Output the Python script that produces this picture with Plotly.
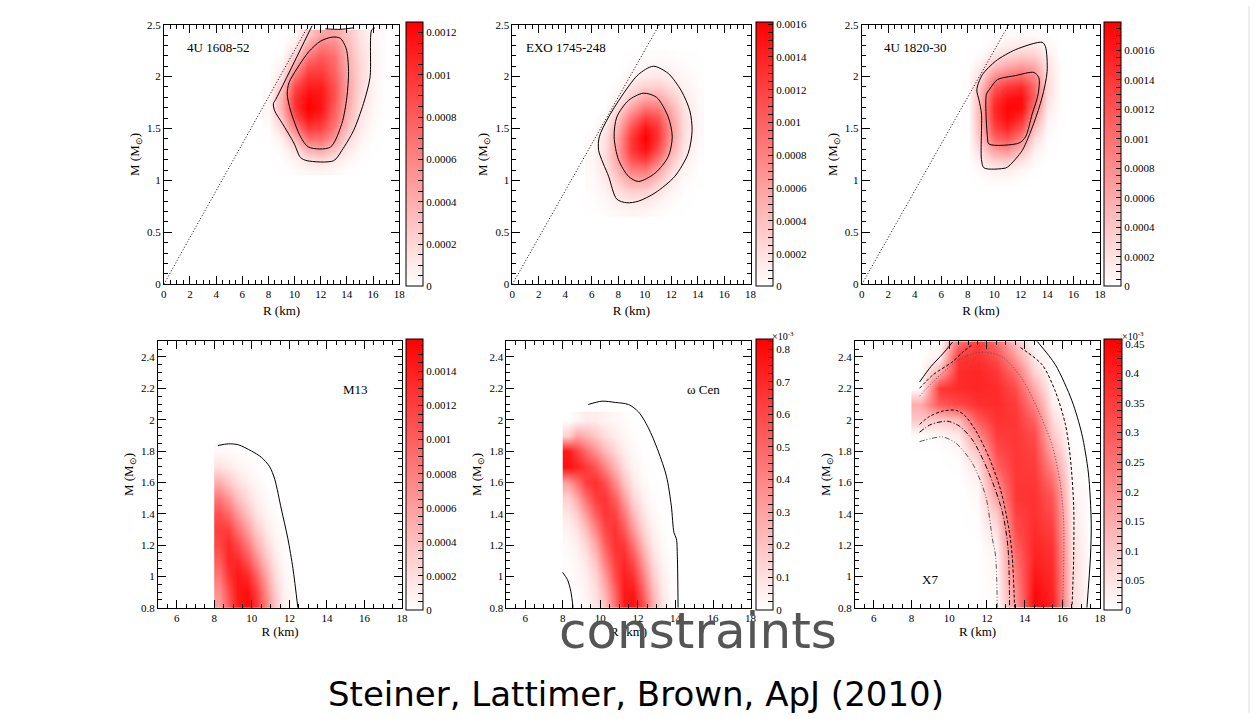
import numpy as np
import plotly.graph_objects as go

W, H = 1258, 719
SERIF = "Liberation Serif"

# ======================= DATA =======================
# ---- 4U 1608-52 : density in units of 1e-4 ----
p1_R = [8, 9, 10, 11, 12, 13, 14, 15, 16, 17]
p1_M = [1.1, 1.2, 1.3, 1.4, 1.5, 1.6, 1.7, 1.8, 1.9, 2.0, 2.1, 2.2, 2.3, 2.4]
p1_z = [
    [0.0, 0.0, 0.2, 0.5, 0.6, 0.4, 0.1, 0.0, 0.0, 0.0],
    [0.0, 0.1, 0.6, 1.5, 1.8, 1.2, 0.5, 0.1, 0.0, 0.0],
    [0.0, 0.3, 1.6, 4.0, 4.5, 3.0, 1.2, 0.3, 0.05, 0.0],
    [0.0, 0.8, 3.5, 7.0, 7.0, 5.0, 2.0, 0.6, 0.1, 0.0],
    [0.1, 1.8, 6.0, 9.5, 9.0, 6.5, 3.0, 1.0, 0.2, 0.0],
    [0.3, 3.0, 8.5, 11.5, 10.5, 7.5, 3.8, 1.3, 0.3, 0.0],
    [0.4, 4.0, 10.0, 12.5, 11.5, 8.0, 4.2, 1.6, 0.4, 0.05],
    [0.3, 4.0, 10.0, 12.0, 11.5, 8.5, 4.5, 1.8, 0.5, 0.05],
    [0.0, 3.0, 9.0, 11.0, 11.0, 8.5, 4.6, 2.0, 0.5, 0.05],
    [0.0, 1.5, 7.0, 10.0, 10.0, 8.0, 4.5, 2.0, 0.6, 0.1],
    [0.0, 0.6, 4.5, 8.5, 9.0, 7.5, 4.2, 2.0, 0.6, 0.1],
    [0.0, 0.1, 2.5, 6.5, 8.0, 7.0, 4.0, 1.8, 0.6, 0.1],
    [0.0, 0.0, 1.0, 4.5, 6.5, 6.0, 3.5, 1.6, 0.5, 0.1],
    [0.0, 0.0, 0.3, 2.5, 4.5, 4.5, 3.0, 1.4, 0.5, 0.1],
]
p1_outer_R = [11.34, 8.56, 8.38, 8.48, 9.06, 9.95, 10.46, 10.96, 12.99, 13.62, 14.51, 15.27, 15.77, 15.9, 16.15]
p1_outer_M = [2.49, 1.78, 1.74, 1.67, 1.55, 1.36, 1.22, 1.19, 1.19, 1.29, 1.48, 1.74, 1.99, 2.45, 2.47]
p1_top_R = [12.35, 13.49, 14.5]
p1_top_M = [2.46, 2.455, 2.47]
p1_inner_R = [11.97, 12.86, 13.49, 13.95, 14.13, 14.0, 13.62, 12.73, 11.09, 10.46, 9.7, 9.44, 9.57, 10.2, 11.09, 11.97]
p1_inner_M = [2.34, 2.38, 2.37, 2.27, 2.05, 1.80, 1.55, 1.32, 1.32, 1.42, 1.67, 1.83, 1.94, 2.08, 2.24, 2.34]

# ---- EXO 1745-248 : density in units of 1e-4 ----
p2_R = [6, 7, 8, 9, 10, 11, 12, 13, 14]
p2_M = [0.7, 0.8, 0.9, 1.0, 1.1, 1.2, 1.3, 1.4, 1.5, 1.6, 1.7, 1.8, 1.9, 2.0, 2.1, 2.2]
p2_z = [
    [0.07, 0.23, 0.51, 0.70, 0.59, 0.31, 0.10, 0.02, 0.0],
    [0.13, 0.47, 1.09, 1.58, 1.42, 0.79, 0.27, 0.06, 0.01],
    [0.21, 0.81, 2.03, 3.10, 2.97, 1.78, 0.65, 0.15, 0.02],
    [0.30, 1.28, 3.36, 5.45, 5.50, 3.42, 1.33, 0.32, 0.05],
    [0.39, 1.71, 4.77, 8.19, 8.73, 5.76, 2.34, 0.61, 0.10],
    [0.43, 2.05, 5.95, 10.8, 12.2, 8.56, 3.72, 1.03, 0.17],
    [0.41, 2.10, 6.45, 12.5, 15.0, 11.1, 5.10, 1.49, 0.27],
    [0.35, 1.90, 6.20, 12.6, 16.0, 12.6, 6.20, 1.90, 0.35],
    [0.0, 1.49, 5.10, 11.1, 15.0, 12.5, 6.45, 2.10, 0.41],
    [0.0, 0.50, 3.72, 8.56, 12.2, 10.8, 5.95, 2.05, 0.43],
    [0.0, 0.0, 2.34, 5.76, 8.73, 8.19, 4.77, 1.71, 0.39],
    [0.0, 0.0, 0.70, 3.42, 5.50, 5.45, 3.36, 1.28, 0.30],
    [0.0, 0.0, 0.30, 1.78, 2.97, 3.10, 2.03, 0.81, 0.21],
    [0.0, 0.0, 0.0, 0.79, 1.42, 1.58, 1.09, 0.47, 0.13],
    [0.0, 0.0, 0.0, 0.31, 0.59, 0.70, 0.51, 0.23, 0.07],
    [0.0, 0.0, 0.0, 0.10, 0.22, 0.27, 0.20, 0.09, 0.03],
]
p2_outer_R = [10.65, 11.78, 12.78, 13.41, 13.58, 13.28, 12.28, 10.78, 9.52, 8.65, 7.89, 7.27, 6.52, 6.57, 7.27, 8.52, 9.52, 10.65]
p2_outer_M = [2.10, 2.03, 1.86, 1.67, 1.48, 1.26, 1.04, 0.88, 0.80, 0.785, 0.82, 1.04, 1.29, 1.42, 1.61, 1.86, 2.02, 2.10]
p2_inner_R = [9.9, 10.9, 11.78, 12.08, 11.78, 10.78, 9.52, 8.77, 8.02, 7.69, 7.89, 8.77, 9.9]
p2_inner_M = [1.84, 1.80, 1.61, 1.42, 1.23, 1.07, 0.99, 1.04, 1.20, 1.42, 1.61, 1.77, 1.84]

# ---- 4U 1820-30 : density in units of 1e-4 ----
p3_R = [8, 9, 10, 11, 12, 13, 14, 15]
p3_M = [1.0, 1.1, 1.2, 1.3, 1.4, 1.5, 1.6, 1.7, 1.8, 1.9, 2.0, 2.1, 2.2, 2.3, 2.4]
p3_z = [
    [0.0, 0.1, 0.3, 0.3, 0.1, 0.0, 0.0, 0.0],
    [0.0, 0.5, 1.2, 1.3, 0.6, 0.1, 0.0, 0.0],
    [0.0, 1.5, 3.5, 4.0, 2.2, 0.5, 0.0, 0.0],
    [0.0, 3.0, 7.0, 8.0, 5.0, 1.2, 0.1, 0.0],
    [0.0, 4.5, 10.5, 12.0, 8.5, 2.5, 0.3, 0.0],
    [0.0, 5.5, 13.0, 15.0, 12.0, 4.5, 0.6, 0.0],
    [0.0, 6.0, 14.5, 17.0, 15.0, 7.0, 1.0, 0.0],
    [0.0, 6.0, 15.0, 17.5, 17.0, 9.5, 1.6, 0.0],
    [0.1, 5.5, 14.0, 16.5, 17.0, 11.0, 2.2, 0.1],
    [0.3, 4.5, 11.5, 14.0, 15.0, 10.5, 2.6, 0.1],
    [0.1, 3.0, 8.0, 10.0, 11.0, 8.5, 2.5, 0.1],
    [0.0, 1.5, 4.5, 6.0, 7.0, 6.0, 2.0, 0.1],
    [0.0, 0.4, 2.0, 3.0, 3.8, 3.5, 1.3, 0.0],
    [0.0, 0.0, 0.6, 1.2, 1.6, 1.6, 0.6, 0.0],
    [0.0, 0.0, 0.1, 0.3, 0.4, 0.4, 0.1, 0.0],
]
p3_outer_R = [8.74, 9.11, 10.12, 11.62, 13.62, 13.87, 14.0, 13.62, 12.99, 12.12, 11.12, 10.87, 9.24, 9.04, 9.04, 8.86, 8.69, 8.74]
p3_outer_M = [1.91, 2.02, 2.15, 2.26, 2.33, 2.29, 2.05, 1.80, 1.55, 1.29, 1.14, 1.12, 1.12, 1.20, 1.64, 1.77, 1.86, 1.91]
p3_inner_R = [9.61, 10.24, 11.62, 12.99, 13.37, 13.32, 12.87, 12.37, 11.87, 9.61, 9.49, 9.41, 9.61]
p3_inner_M = [1.87, 1.97, 2.01, 2.04, 1.99, 1.83, 1.64, 1.42, 1.36, 1.35, 1.42, 1.83, 1.87]

# causality line (top row)
caus_R = [0.0, 11.1]
caus_M = [0.0, 2.5]

# ---- M13 : density in units of 1e-4 ----
p4_R = [8.25, 8.75, 9.25, 9.75, 10.25, 10.75, 11.25, 11.75, 12.25]
p4_M = [0.8, 0.9, 1.0, 1.1, 1.2, 1.3, 1.4, 1.5, 1.6, 1.7, 1.8]
p4_z = [
    [6.0, 10.0, 14.0, 15.5, 13.0, 8.0, 3.5, 1.0, 0.2],
    [7.0, 11.0, 14.5, 15.0, 12.0, 7.0, 3.0, 0.8, 0.1],
    [8.5, 12.5, 14.5, 13.5, 10.0, 5.5, 2.2, 0.5, 0.05],
    [10.0, 13.5, 13.5, 11.0, 7.5, 3.8, 1.4, 0.3, 0.0],
    [11.5, 13.5, 11.5, 8.5, 5.0, 2.4, 0.8, 0.15, 0.0],
    [12.0, 12.0, 9.0, 6.0, 3.2, 1.4, 0.4, 0.05, 0.0],
    [11.0, 9.5, 6.5, 3.8, 1.8, 0.7, 0.2, 0.0, 0.0],
    [8.5, 6.5, 4.0, 2.2, 1.0, 0.3, 0.05, 0.0, 0.0],
    [5.0, 3.5, 2.0, 1.0, 0.4, 0.1, 0.0, 0.0, 0.0],
    [2.0, 1.4, 0.8, 0.4, 0.15, 0.0, 0.0, 0.0, 0.0],
    [0.4, 0.3, 0.15, 0.05, 0.0, 0.0, 0.0, 0.0, 0.0],
]
p4_c_R = [8.19, 8.75, 9.28, 9.98, 10.51, 10.95, 11.22, 11.57, 11.92, 12.19, 12.45]
p4_c_M = [1.835, 1.846, 1.84, 1.80, 1.76, 1.70, 1.62, 1.43, 1.24, 1.05, 0.8]

# ---- omega Cen : density in units of 1e-4 ----
p5_R = [8.25, 8.75, 9.25, 9.75, 10.25, 10.75, 11.25, 11.75, 12.25, 12.75, 13.25, 13.75]
p5_M = [0.8, 0.9, 1.0, 1.1, 1.2, 1.3, 1.4, 1.5, 1.6, 1.7, 1.8, 1.9, 2.0]
p5_z = [
    [0.0, 0.1, 0.3, 0.8, 2.0, 4.5, 7.5, 8.0, 6.0, 3.0, 1.0, 0.2],
    [0.0, 0.1, 0.4, 1.0, 2.5, 5.0, 7.5, 7.5, 5.2, 2.5, 0.8, 0.15],
    [0.05, 0.2, 0.5, 1.4, 3.2, 5.8, 7.3, 6.8, 4.3, 1.9, 0.6, 0.1],
    [0.1, 0.3, 0.8, 2.0, 4.2, 6.3, 7.0, 5.8, 3.3, 1.3, 0.4, 0.05],
    [0.2, 0.5, 1.3, 2.9, 5.2, 6.7, 6.5, 4.6, 2.3, 0.8, 0.2, 0.0],
    [0.4, 0.9, 2.1, 4.0, 6.0, 6.7, 5.5, 3.4, 1.5, 0.5, 0.1, 0.0],
    [0.8, 1.6, 3.3, 5.3, 6.6, 6.2, 4.4, 2.3, 0.9, 0.25, 0.05, 0.0],
    [1.5, 2.8, 4.8, 6.4, 6.6, 5.2, 3.2, 1.4, 0.5, 0.1, 0.0, 0.0],
    [3.0, 4.6, 6.3, 6.8, 5.8, 3.9, 2.0, 0.8, 0.2, 0.05, 0.0, 0.0],
    [7.8, 7.2, 6.5, 5.5, 4.0, 2.4, 1.1, 0.4, 0.1, 0.0, 0.0, 0.0],
    [7.5, 6.2, 4.8, 3.5, 2.3, 1.3, 0.6, 0.2, 0.05, 0.0, 0.0, 0.0],
    [1.5, 3.0, 2.5, 1.8, 1.1, 0.6, 0.3, 0.1, 0.0, 0.0, 0.0, 0.0],
    [0.0, 0.3, 0.6, 0.6, 0.4, 0.25, 0.1, 0.05, 0.0, 0.0, 0.0, 0.0],
]
p5_c_R = [9.36, 10.09, 10.8, 11.5, 12.03, 12.55, 13.08, 13.52, 13.78, 13.92, 14.05, 14.1, 14.14]
p5_c_M = [2.097, 2.118, 2.11, 2.097, 2.05, 1.95, 1.80, 1.64, 1.45, 1.28, 1.24, 1.13, 0.8]
p5_s_R = [7.99, 8.25, 8.43, 8.55]
p5_s_M = [1.026, 0.98, 0.905, 0.8]

# ---- X7 : density in units of 1e-4 ----
p6_R = [8.5, 9.5, 10.5, 11.5, 12.5, 13.5, 14.5, 15.5, 16.5, 17.5]
p6_M = [0.8, 0.9, 1.0, 1.1, 1.2, 1.3, 1.4, 1.5, 1.6, 1.7, 1.8, 1.9, 2.0, 2.1, 2.2, 2.3, 2.4, 2.5]
p6_z = [
    [0.0, 0.0, 0.0, 0.0, 0.05, 1.8, 4.5, 4.0, 0.7, 0.0],
    [0.0, 0.0, 0.0, 0.0, 0.1, 2.0, 4.4, 3.9, 0.7, 0.0],
    [0.0, 0.0, 0.0, 0.0, 0.15, 2.3, 4.2, 3.8, 0.7, 0.0],
    [0.0, 0.0, 0.0, 0.0, 0.2, 2.6, 4.0, 3.7, 0.7, 0.0],
    [0.0, 0.0, 0.0, 0.0, 0.3, 2.9, 3.9, 3.6, 0.6, 0.0],
    [0.0, 0.0, 0.0, 0.02, 0.6, 3.2, 3.8, 3.4, 0.5, 0.0],
    [0.0, 0.0, 0.0, 0.05, 1.0, 3.4, 3.7, 3.2, 0.4, 0.0],
    [0.0, 0.0, 0.0, 0.1, 1.6, 3.6, 3.7, 3.0, 0.3, 0.0],
    [0.0, 0.0, 0.0, 0.2, 2.2, 3.6, 3.6, 2.6, 0.2, 0.0],
    [0.0, 0.0, 0.02, 0.5, 2.8, 3.6, 3.5, 2.1, 0.1, 0.0],
    [0.0, 0.0, 0.1, 1.1, 3.2, 3.6, 3.4, 1.5, 0.05, 0.0],
    [0.05, 0.1, 0.4, 2.0, 3.5, 3.6, 3.2, 1.0, 0.0, 0.0],
    [1.0, 1.0, 1.3, 3.0, 3.7, 3.6, 2.8, 0.6, 0.0, 0.0],
    [1.5, 3.0, 3.3, 3.7, 3.8, 3.5, 2.2, 0.3, 0.0, 0.0],
    [0.0, 3.6, 3.8, 3.9, 3.8, 3.2, 1.5, 0.1, 0.0, 0.0],
    [0.0, 1.5, 3.8, 3.9, 3.6, 2.6, 0.8, 0.0, 0.0, 0.0],
    [0.0, 0.3, 3.6, 3.7, 3.2, 1.8, 0.3, 0.0, 0.0, 0.0],
    [0.0, 0.0, 2.5, 3.5, 2.6, 1.0, 0.1, 0.0, 0.0, 0.0],
]
p6_solid_R = [14.66, 15.63, 16.51, 17.03, 17.38, 17.53, 17.49, 17.3]
p6_solid_M = [2.5, 2.35, 2.12, 1.91, 1.66, 1.34, 1.13, 0.8]
p6_solidtl_R = [8.43, 9.04, 9.66, 10.18]
p6_solidtl_M = [2.24, 2.34, 2.42, 2.495]
p6_dashtl_R = [8.43, 9.13, 10.18, 10.71, 11.24]
p6_dashtl_M = [2.20, 2.285, 2.37, 2.43, 2.48]
p6_dashr_R = [13.78, 14.93, 15.63, 16.16, 16.42, 16.6, 16.6, 16.51]
p6_dashr_M = [2.46, 2.35, 2.18, 1.97, 1.76, 1.45, 1.13, 0.8]
p6_dashin_R = [8.43, 8.95, 9.66, 10.36, 10.8, 11.41, 12.11, 12.73, 13.17, 13.34, 13.47]
p6_dashin_M = [1.97, 2.02, 2.055, 2.06, 2.03, 1.93, 1.76, 1.55, 1.30, 1.13, 0.8]
p6_dot_R = [8.43, 9.13, 10.36, 11.24, 11.94, 12.82, 13.87, 14.75, 15.45, 15.89, 16.07, 16.02]
p6_dot_M = [2.15, 2.24, 2.37, 2.42, 2.43, 2.40, 2.26, 2.05, 1.84, 1.59, 1.34, 0.8]
p6_dd_R = [8.43, 9.04, 9.92, 10.53, 11.24, 12.11, 12.82, 13.12, 13.2]
p6_dd_M = [1.92, 1.97, 1.99, 1.96, 1.87, 1.66, 1.41, 1.18, 0.8]
p6_ddd_R = [8.43, 9.04, 9.66, 10.36, 11.24, 11.94, 12.29, 12.46, 12.55]
p6_ddd_M = [1.86, 1.88, 1.89, 1.85, 1.72, 1.51, 1.24, 1.13, 0.8]

# colour-bar maxima and labels
zmax_list = [0.001247, 0.00161, 0.00179, 0.00159, 0.000831, 0.000458]
cb_major = [
    [0, 0.0002, 0.0004, 0.0006, 0.0008, 0.001, 0.0012],
    [0, 0.0002, 0.0004, 0.0006, 0.0008, 0.001, 0.0012, 0.0014, 0.0016],
    [0, 0.0002, 0.0004, 0.0006, 0.0008, 0.001, 0.0012, 0.0014, 0.0016],
    [0, 0.0002, 0.0004, 0.0006, 0.0008, 0.001, 0.0012, 0.0014],
    [0, 1e-4, 2e-4, 3e-4, 4e-4, 5e-4, 6e-4, 7e-4, 8e-4],
    [0, 0.5e-4, 1e-4, 1.5e-4, 2e-4, 2.5e-4, 3e-4, 3.5e-4, 4e-4, 4.5e-4],
]
cb_labels = [
    ["0", "0.0002", "0.0004", "0.0006", "0.0008", "0.001", "0.0012"],
    ["0", "0.0002", "0.0004", "0.0006", "0.0008", "0.001", "0.0012", "0.0014", "0.0016"],
    ["0", "0.0002", "0.0004", "0.0006", "0.0008", "0.001", "0.0012", "0.0014", "0.0016"],
    ["0", "0.0002", "0.0004", "0.0006", "0.0008", "0.001", "0.0012", "0.0014"],
    ["0", "0.1", "0.2", "0.3", "0.4", "0.5", "0.6", "0.7", "0.8"],
    ["0", "0.05", "0.1", "0.15", "0.2", "0.25", "0.3", "0.35", "0.4", "0.45"],
]
cb_minor_step = [0.00005, 0.00005, 0.00005, 0.00005, 0.025e-3, 0.0125e-3]
panel_names = ["4U 1608-52", "EXO 1745-248", "4U 1820-30", "M13", "ω Cen", "X7"]
UNIT = 1e-4

# ======================= LAYOUT GEOMETRY (pixels) =======================
plot_px = [  # left, right, top, bottom
    (162, 399, 19, 283), (513, 753, 19, 283), (865, 1105, 19, 283),
    (156, 402, 341, 612), (507, 753, 341, 612), (858, 1105, 341, 612),
]
cb_px = [(406, 423), (758, 775), (1109, 1126), (406, 423), (758, 775), (1109, 1127)]

fig = go.Figure()

densities = [(p1_R, p1_M, p1_z), (p2_R, p2_M, p2_z), (p3_R, p3_M, p3_z),
             (p4_R, p4_M, p4_z), (p5_R, p5_M, p5_z), (p6_R, p6_M, p6_z)]

for i, (R, M, Z) in enumerate(densities):
    l, r, t, b = plot_px[i]
    cl, cr = cb_px[i]
    zmax = zmax_list[i]
    majors = cb_major[i]
    minors = [v for v in np.arange(0, zmax, cb_minor_step[i])
              if min(abs(v - m) for m in majors) > cb_minor_step[i] * 0.1]
    tv = list(majors) + minors
    tt = list(cb_labels[i]) + [""] * len(minors)
    sfx = "" if i == 0 else str(i + 1)
    fig.add_trace(go.Heatmap(
        x=R, y=M, z=np.array(Z) * UNIT,
        xaxis="x" + sfx, yaxis="y" + sfx,
        zmin=0, zmax=zmax, zsmooth="best",
        colorscale=[[0, "rgb(255,255,255)"], [1, "rgb(255,0,0)"]],
        hoverinfo="skip",
        colorbar=dict(
            x=cl / W, xanchor="left", xpad=0,
            y=1 - (t + b) / 2 / H, yanchor="middle", ypad=0,
            len=b - t, lenmode="pixels",
            thickness=cr - cl, thicknessmode="pixels",
            outlinewidth=1, outlinecolor="black", borderwidth=0,
            ticks="inside", ticklen=5, tickcolor="black", tickwidth=1,
            tickmode="array", tickvals=tv, ticktext=tt,
            tickfont=dict(family=SERIF, size=11, color="black"),
        ),
    ))


def line(R, M, ax, dash="solid", color="black", width=1, shape="spline"):
    sfx = "" if ax == 1 else str(ax)
    fig.add_trace(go.Scatter(
        x=R, y=M, mode="lines", xaxis="x" + sfx, yaxis="y" + sfx,
        line=dict(color=color, width=width, dash=dash, shape=shape, smoothing=0.8),
        hoverinfo="skip", showlegend=False))


# top row
for ax in (1, 2, 3):
    line(caus_R, caus_M, ax, dash="1px,2px", shape="linear")
line(p1_outer_R, p1_outer_M, 1)
line(p1_top_R, p1_top_M, 1)
line(p1_inner_R, p1_inner_M, 1)
line(p2_outer_R, p2_outer_M, 2)
line(p2_inner_R, p2_inner_M, 2)
line(p3_outer_R, p3_outer_M, 3)
line(p3_inner_R, p3_inner_M, 3)
# bottom row
line(p4_c_R, p4_c_M, 4)
line(p5_c_R, p5_c_M, 5)
line(p5_s_R, p5_s_M, 5)
line(p6_solid_R, p6_solid_M, 6)
line(p6_solidtl_R, p6_solidtl_M, 6)
line(p6_dashtl_R, p6_dashtl_M, 6, dash="3px,2px")
line(p6_dashr_R, p6_dashr_M, 6, dash="3px,2px")
line(p6_dashin_R, p6_dashin_M, 6, dash="3px,2px")
line(p6_dot_R, p6_dot_M, 6, dash="1px,2px", color="#555555")
line(p6_dd_R, p6_dd_M, 6, dash="5px,2px,1px,2px")
line(p6_ddd_R, p6_ddd_M, 6, dash="5px,2px,1px,2px,1px,2px", color="#555555")

common = dict(showline=True, linecolor="black", linewidth=1, mirror="allticks",
              ticks="inside", ticklen=8, tickcolor="black", tickwidth=1,
              showgrid=False, zeroline=False,
              tickfont=dict(family=SERIF, size=11, color="black"))
layout = {}
for i in range(6):
    l, r, t, b = plot_px[i]
    sfx = "" if i == 0 else str(i + 1)
    top = i < 3
    xa = dict(common, domain=[l / W, r / W], anchor="y" + sfx,
              range=[0, 18] if top else [5, 18], tick0=0, dtick=2,
              minor=dict(dtick=0.5, ticks="inside", ticklen=4, tickcolor="black", showgrid=False),
              title=dict(text="R (km)", font=dict(family=SERIF, size=13, color="black"),
                         standoff=6 if top else 2))
    ya = dict(common, domain=[1 - b / H, 1 - t / H], anchor="x" + sfx,
              range=[0, 2.5] if top else [0.8, 2.5],
              tick0=0, dtick=0.5 if top else 0.2,
              minor=dict(dtick=0.1 if top else 0.05, ticks="inside", ticklen=4,
                         tickcolor="black", showgrid=False),
              title=dict(text="M (M<sub>⊙</sub>)", font=dict(family=SERIF, size=13, color="black"),
                         standoff=4))
    layout["xaxis" + sfx] = xa
    layout["yaxis" + sfx] = ya

annotations = []
label_pos = [(1.6, 2.28, "left"), (0.9, 2.28, "left"), (1.55, 2.28, "left"),
             (15.5, 2.19, "center"), (15.5, 2.19, "center"), (9.0, 0.98, "center")]
for i, (xr, yr, anc) in enumerate(label_pos):
    sfx = "" if i == 0 else str(i + 1)
    annotations.append(dict(x=xr, y=yr, xref="x" + sfx, yref="y" + sfx, text=panel_names[i],
                            showarrow=False, xanchor=anc, yanchor="middle",
                            font=dict(family=SERIF, size=13, color="black")))
for i in (4, 5):
    cl, cr = cb_px[i]
    t = plot_px[i][2]
    annotations.append(dict(x=cr / W, y=1 - (t - 5) / H, xref="paper", yref="paper",
                            text="×10<sup>-3</sup>", showarrow=False, xanchor="left",
                            yanchor="middle", xshift=-2,
                            font=dict(family=SERIF, size=10, color="black")))
annotations.append(dict(x=700 / W, y=1 - 636 / H, xref="paper", yref="paper",
                        text="constraints", showarrow=False, xanchor="center", yanchor="middle",
                        font=dict(family="DejaVu Sans", size=50, color="#555555")))
annotations.append(dict(x=638 / W, y=1 - 700 / H, xref="paper", yref="paper",
                        text="Steiner, Lattimer, Brown, ApJ (2010)", showarrow=False,
                        xanchor="center", yanchor="middle",
                        font=dict(family="DejaVu Sans", size=34, color="black")))

fig.update_layout(
    width=W, height=H, margin=dict(l=0, r=0, t=0, b=0),
    paper_bgcolor="white", plot_bgcolor="white", showlegend=False,
    font=dict(family=SERIF, color="black"),
    annotations=annotations,
    shapes=[dict(type="line", xref="paper", yref="paper", x0=1255 / W, x1=1255 / W,
                 y0=0, y1=1, line=dict(color="#dddddd", width=1))],
    **layout,
)

fig.write_html("out.html")
